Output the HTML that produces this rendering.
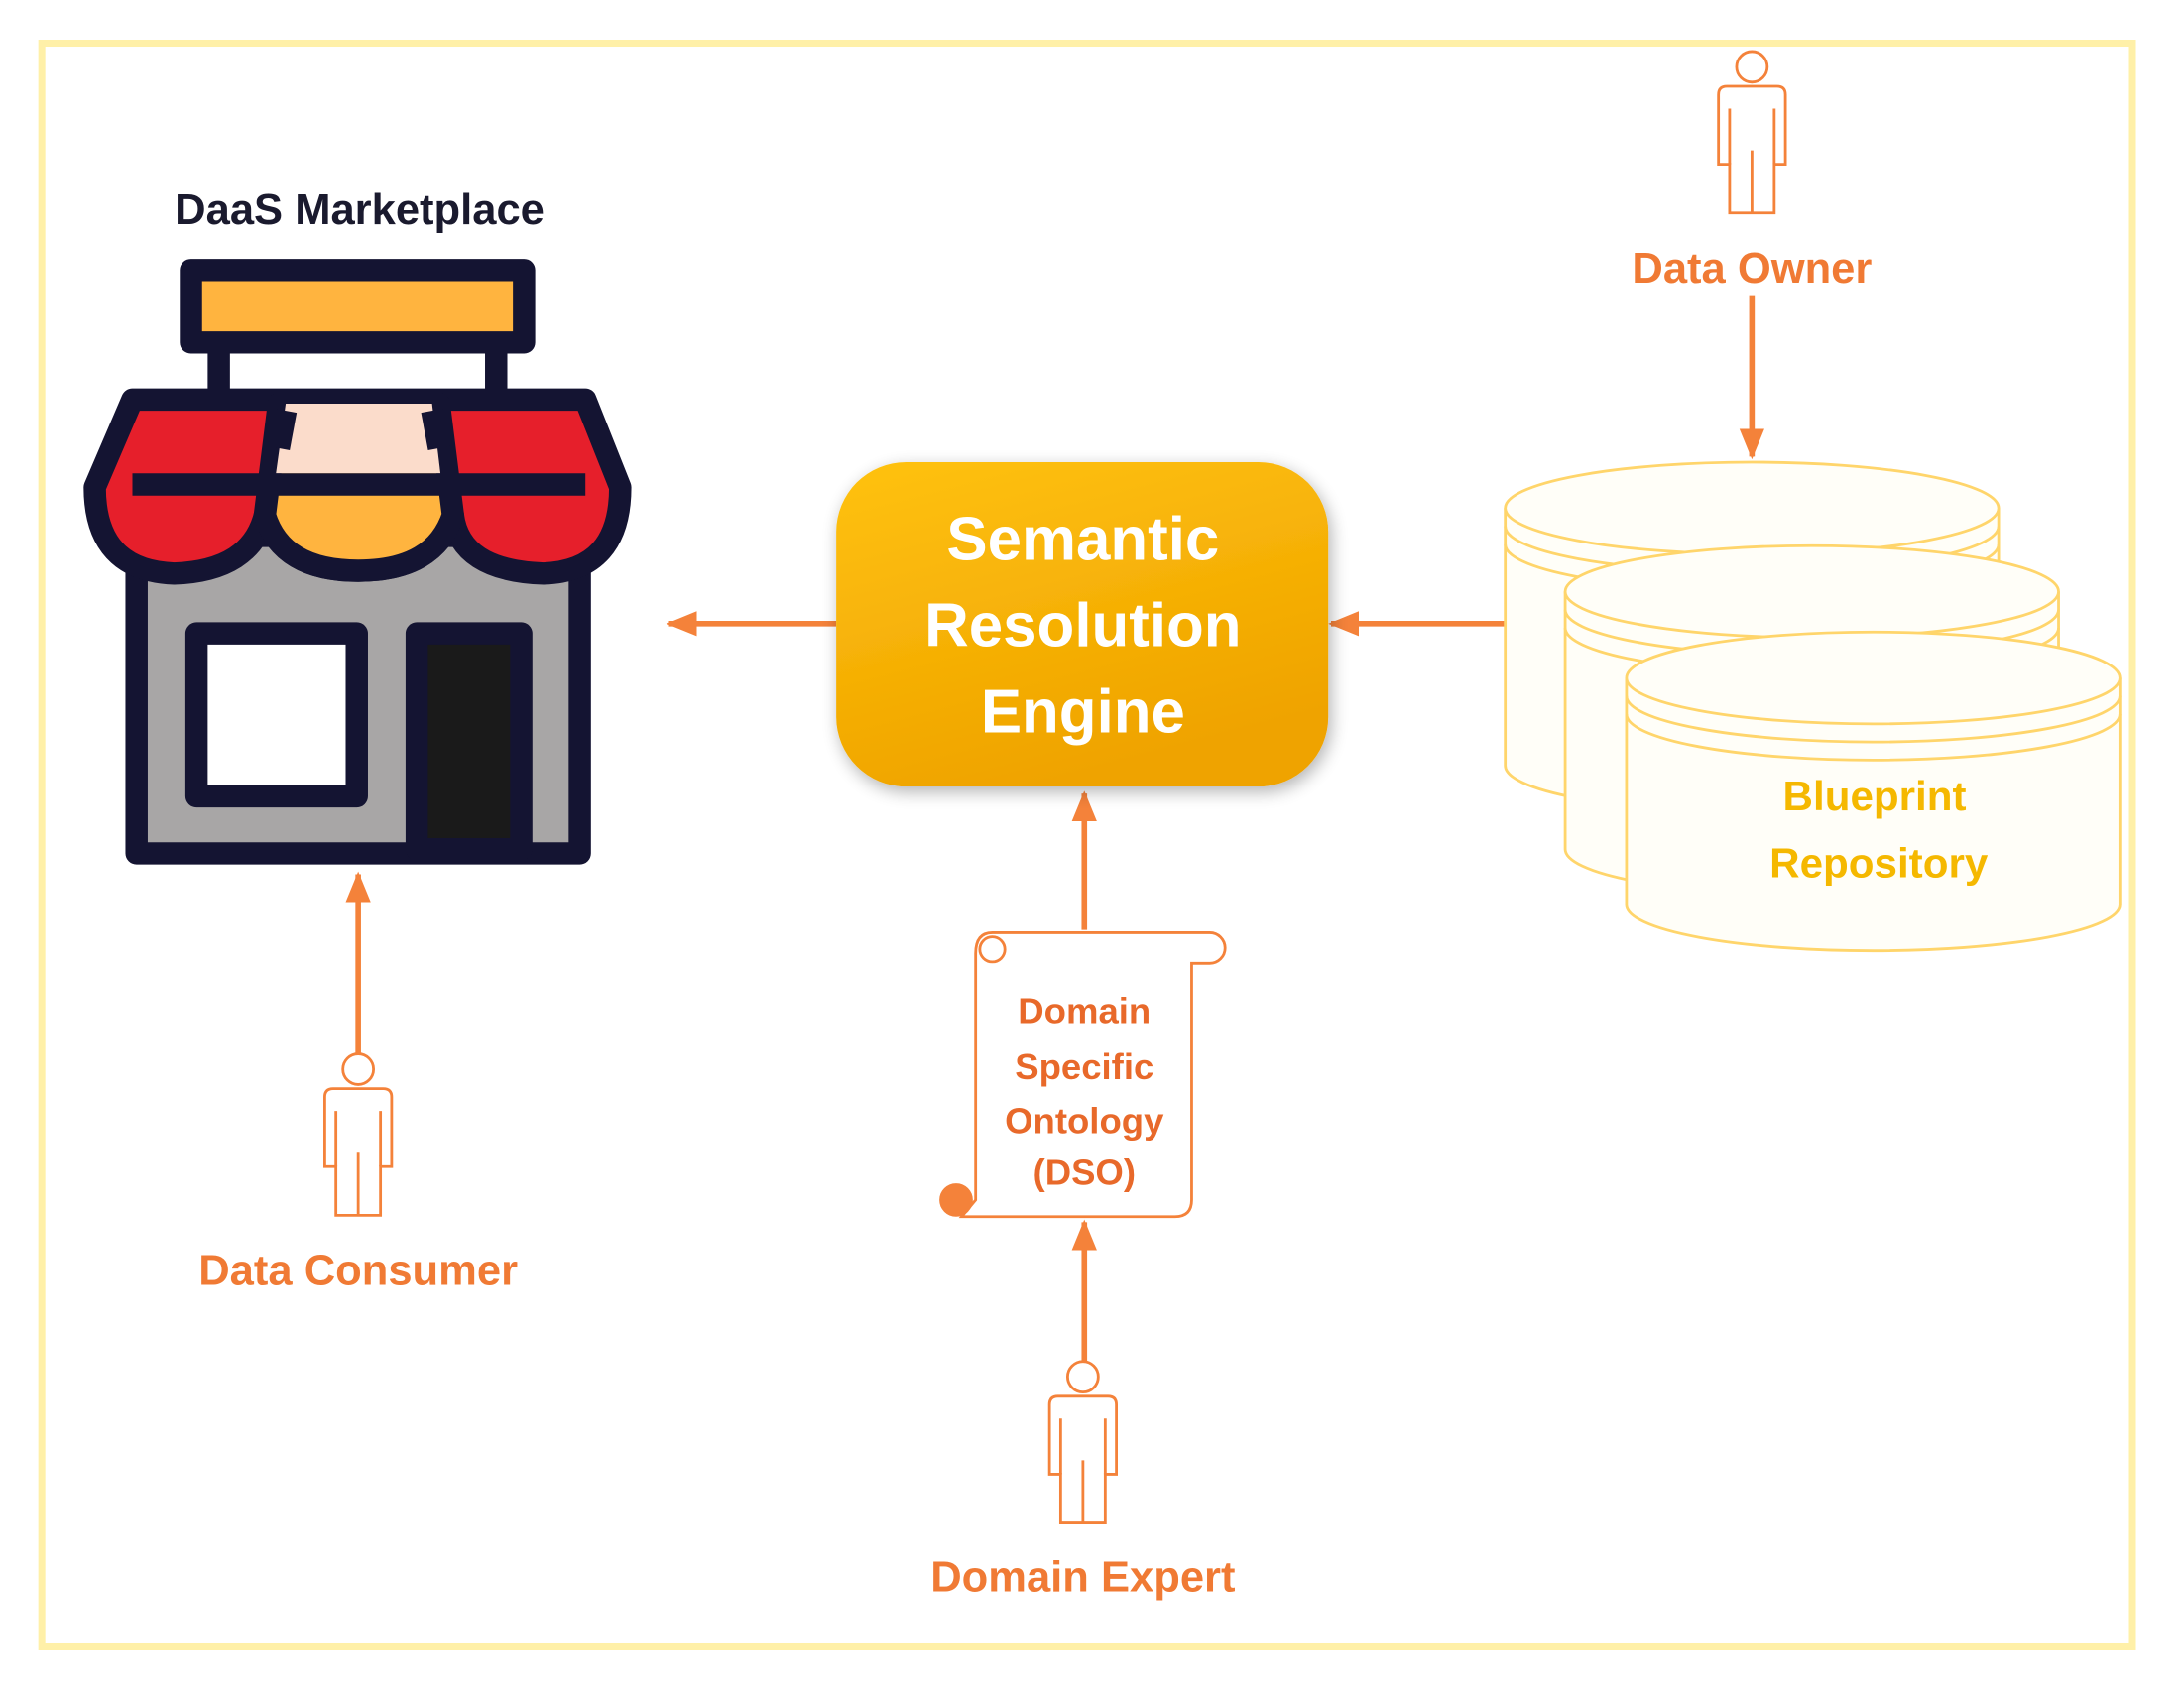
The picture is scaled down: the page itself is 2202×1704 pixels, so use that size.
<!DOCTYPE html>
<html><head><meta charset="utf-8"><style>
html,body{margin:0;padding:0;background:#fff;}
svg{display:block;}
text{font-family:"Liberation Sans","DejaVu Sans",sans-serif;font-weight:bold;}
</style></head><body>
<svg width="2202" height="1704" viewBox="0 0 1567 1214" preserveAspectRatio="none" xmlns="http://www.w3.org/2000/svg">
<defs>
<linearGradient id="g" x1="0" y1="0" x2="0.4" y2="1"><stop offset="0" stop-color="#FFC20E"/><stop offset="1" stop-color="#EFA300"/></linearGradient>
<filter id="sh" x="-20%" y="-20%" width="140%" height="140%"><feGaussianBlur in="SourceAlpha" stdDeviation="6"/><feOffset dx="2" dy="4"/><feComponentTransfer><feFuncA type="linear" slope="0.3"/></feComponentTransfer><feMerge><feMergeNode/><feMergeNode in="SourceGraphic"/></feMerge></filter>
<marker id="ah" markerWidth="22" markerHeight="22" refX="20" refY="11" orient="auto" markerUnits="userSpaceOnUse"><path d="M0,2 L22,11 L0,20 Z" fill="#F4823A"/></marker>
<g id="person" fill="#fff" stroke="#F4823A" stroke-width="2">
<circle cx="0" cy="10" r="11"/>
<path d="M-24,30 Q-24,24 -18,24 L18,24 Q24,24 24,30 L24,80 L16,80 L16,115 L-16,115 L-16,80 L-24,80 Z"/>
<path d="M-16,40 L-16,80 M16,40 L16,80 M0,70 L0,115" fill="none"/>
</g>
</defs>
<rect x="30" y="31" width="1500" height="1152" fill="#fff" stroke="#FFF0A8" stroke-width="5"/>

<text x="258" y="161" font-size="31" text-anchor="middle" fill="#1a1a2e">DaaS Marketplace</text>
<g stroke="#141432" stroke-width="16" stroke-linejoin="round">
<rect x="137" y="194" width="239" height="52" fill="#FFB43F"/>
<line x1="157" y1="250" x2="157" y2="285"/><line x1="356" y1="250" x2="356" y2="285"/>
<rect x="98" y="385" width="318" height="228" fill="#A8A6A6"/>
<rect x="141" y="455" width="115" height="117" fill="#fff"/>
<rect x="299" y="455" width="75" height="155" fill="#1a1a1a"/>
<path d="M95,287 L420,287 L445,350 Q445,410 390,412 Q330,410 325,370 Q312,410 257,410 Q202,410 190,370 Q180,410 125,412 Q68,410 68,350 Z" fill="#E61F2B"/>
<path d="M200,290 L315,290 L325,370 Q312,410 257,410 Q202,410 190,370 Z" fill="#FFB43F"/>
<path d="M205,290 L310,290 L316,340 L198,340 Z" fill="#FBDCCB" stroke="none"/>
<line x1="95" y1="348" x2="420" y2="348"/>
<line x1="205" y1="295" x2="200" y2="322"/><line x1="310" y1="295" x2="315" y2="322"/>
</g>

<g stroke="#F4823A" stroke-width="4" marker-end="url(#ah)">
<line x1="600" y1="448" x2="480" y2="448"/>
<line x1="1080" y1="448" x2="955" y2="448"/>
<line x1="1257" y1="212" x2="1257" y2="328"/>
<line x1="257" y1="760" x2="257" y2="628"/>
<line x1="778" y1="668" x2="778" y2="570"/>
<line x1="778" y1="982" x2="778" y2="878"/>
</g>

<rect x="600" y="332" width="353" height="233" rx="50" fill="url(#g)" filter="url(#sh)"/>
<g font-size="44" fill="#fff" text-anchor="middle">
<text x="777" y="402">Semantic</text><text x="777" y="464">Resolution</text><text x="777" y="526">Engine</text>
</g>

<g fill="#FFFEF8" stroke="#FFD56B" stroke-width="2">
<path d="M1080,365 L1080,550 A177,33 0 0 0 1434,550 L1434,365"/><ellipse cx="1257" cy="365" rx="177" ry="33"/><path d="M1080,378 A177,33 0 0 0 1434,378 M1080,391 A177,33 0 0 0 1434,391" fill="none"/>
<path d="M1123,425 L1123,610 A177,33 0 0 0 1477,610 L1477,425"/><ellipse cx="1300" cy="425" rx="177" ry="33"/><path d="M1123,438 A177,33 0 0 0 1477,438 M1123,451 A177,33 0 0 0 1477,451" fill="none"/>
<path d="M1167,487 L1167,650 A177,33 0 0 0 1521,650 L1521,487"/><ellipse cx="1344" cy="487" rx="177" ry="33"/><path d="M1167,500 A177,33 0 0 0 1521,500 M1167,513 A177,33 0 0 0 1521,513" fill="none"/>
</g>
<g font-size="30" fill="#F5B800" text-anchor="middle"><text x="1345" y="582">Blueprint</text><text x="1348" y="630">Repository</text></g>

<g fill="#fff" stroke="#F4823A" stroke-width="2">
<path d="M712,670 L868,670 A11,11 0 0 1 868,692 L855,692 L855,862 Q855,874 843,874 L690,874 L700,862 L700,685 Q700,670 712,670 Z"/>
<circle cx="712" cy="682" r="9" fill="none"/>
<circle cx="686" cy="862" r="11" fill="#F4823A"/>
</g>
<g font-size="26" fill="#E8692A" text-anchor="middle">
<text x="778" y="735">Domain</text><text x="778" y="775">Specific</text><text x="778" y="814">Ontology</text><text x="778" y="851">(DSO)</text>
</g>

<use href="#person" x="1257" y="38"/>
<use href="#person" x="257" y="758"/>
<use href="#person" x="777" y="979"/>
<g font-size="31" fill="#F07A34" text-anchor="middle">
<text x="1257" y="203">Data Owner</text>
<text x="257" y="923">Data Consumer</text>
<text x="777" y="1143">Domain Expert</text>
</g>
</svg>
</body></html>
